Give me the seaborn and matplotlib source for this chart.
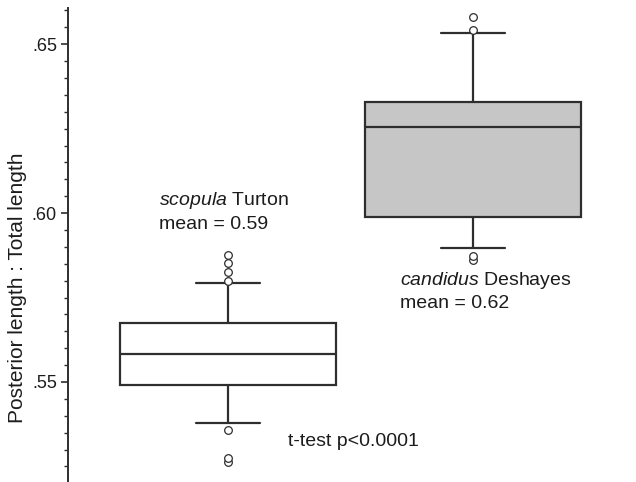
import numpy as np
import pandas as pd
import seaborn as sns
import matplotlib.pyplot as plt

# values (sorted), chosen so quartiles / whiskers land where drawn
scopula = [0.5262, 0.5276, 0.5357,            # low outliers
           0.5379, 0.5410, 0.5450, 0.5491,    # whisker low, fill, Q1
           0.5510, 0.5530, 0.5550, 0.5565, 0.5575,
           0.5583,                            # median
           0.5600, 0.5620, 0.5640, 0.5655, 0.5665,
           0.5675, 0.5730, 0.5793,            # Q3, fill, whisker high
           0.5800, 0.5826, 0.5852, 0.5876]    # high outliers
candidus = [0.5862, 0.5874,                   # low outliers
            0.5896, 0.5988,                   # whisker low, Q1
            0.6080, 0.6180,
            0.6254,                           # median
            0.6280, 0.6305,
            0.6328, 0.6533,                   # Q3, whisker high
            0.6541, 0.6580]                   # high outliers
groups = ['scopula', 'candidus']
box_colors = ['white', '#c6c6c6']

df = pd.DataFrame({
    'species': ['scopula'] * len(scopula) + ['candidus'] * len(candidus),
    'ratio': scopula + candidus,
})

sns.set_style('white')
plt.rcParams['font.family'] = ['Liberation Sans', 'DejaVu Sans']
plt.rcParams['mathtext.fontset'] = 'custom'
plt.rcParams['mathtext.rm'] = 'Liberation Sans'
plt.rcParams['mathtext.it'] = 'Liberation Sans:italic'
plt.rcParams['text.color'] = '#1c1c1c'
plt.rcParams['ytick.labelcolor'] = '#1c1c1c'

fig = plt.figure(figsize=(6.36, 4.82), dpi=100)
ax = fig.add_axes([68 / 636, 0.0, 1 - 68 / 636, 1 - 8 / 482])

edge = '#2e2e2e'
sns.boxplot(data=df, x='species', y='ratio', order=groups, hue='species',
            palette=dict(zip(groups, box_colors)), legend=False,
            width=0.88, whis=(10, 85), linecolor=edge, linewidth=1.6,
            capwidths=0.26,
            flierprops=dict(marker='o', markerfacecolor='white',
                            markeredgecolor=edge, markersize=5.5,
                            markeredgewidth=0.9),
            ax=ax)

ax.set_xlim(-0.653, 1.665)
ax.set_ylim(0.5204, 0.6607)
ax.set_yticks([0.55, 0.60, 0.65])
ax.set_yticklabels(['.55', '.60', '.65'], fontsize=13)
ax.set_yticks(np.arange(0.525, 0.661, 0.005), minor=True)
ax.tick_params(axis='y', which='major', direction='out', length=5, width=1.2,
               color=edge, left=True, pad=3)
ax.tick_params(axis='y', which='minor', direction='out', length=3, width=1,
               color=edge, left=True)
ax.set_xticks([])
ax.set_xlabel('')
ax.set_ylabel('Posterior length : Total length', fontsize=15, color='#1c1c1c')
ax.yaxis.set_label_coords(-0.072, 0.409)
for s in ['top', 'right', 'bottom']:
    ax.spines[s].set_visible(False)
ax.spines['left'].set_color(edge)
ax.spines['left'].set_linewidth(1.4)

fs = 14
ax.text(-0.283, 0.6038, r'$\it{scopula}$ Turton', fontsize=fs, va='center')
ax.text(-0.283, 0.5965, 'mean = 0.59', fontsize=fs, va='center')
ax.text(0.702, 0.5799, r'$\it{candidus}$ Deshayes', fontsize=fs, va='center')
ax.text(0.702, 0.5731, 'mean = 0.62', fontsize=fs, va='center')
ax.text(0.245, 0.5325, 't-test p<0.0001', fontsize=fs, va='center')

fig.savefig('out.png', dpi=100)
